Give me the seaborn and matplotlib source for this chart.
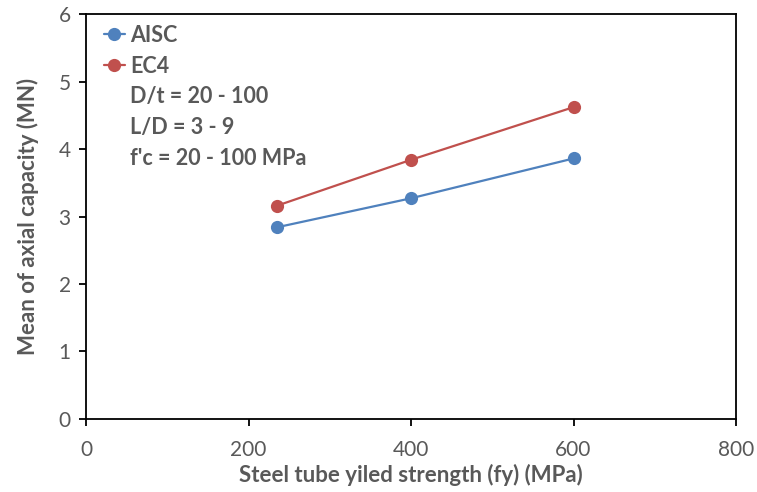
import matplotlib
matplotlib.use("Agg")
import matplotlib.pyplot as plt
import seaborn as sns
import pandas as pd
from matplotlib.lines import Line2D

fy = [235, 400, 600]
aisc = [2.84, 3.27, 3.86]
ec4 = [3.16, 3.84, 4.62]
series_names = ["AISC", "EC4"]
notes = ["D/t = 20 - 100", "L/D = 3 - 9", "f'c = 20 - 100 MPa"]
xticks = [0, 200, 400, 600, 800]
yticks = [0, 1, 2, 3, 4, 5, 6]

df = pd.DataFrame({
    "fy": fy * 2,
    "cap": aisc + ec4,
    "code": [series_names[0]] * 3 + [series_names[1]] * 3,
})

sns.set_style("white")
plt.rcParams["font.family"] = ["Lato", "DejaVu Sans"]
gray = "#595959"
colors = {"AISC": "#4F81BD", "EC4": "#C0504D"}

fig = plt.figure(figsize=(7.57, 4.92), dpi=100)
ax = fig.add_axes([0.1136, 0.1484, 0.8587, 0.8231])
sns.lineplot(data=df, x="fy", y="cap", hue="code", palette=colors, marker="o",
             markersize=9.5, markeredgewidth=0, linewidth=1.6, ax=ax, legend=False)

ax.set_xlim(0, 800)
ax.set_ylim(0, 6)
ax.set_xticks(xticks)
ax.set_yticks(yticks)
for s in ax.spines.values():
    s.set_color("black")
    s.set_linewidth(1.3)
ax.tick_params(axis="both", direction="out", length=5, width=1.3, color="black",
               labelsize=15, labelcolor=gray, bottom=True, left=True)
ax.tick_params(axis="x", pad=10)
ax.tick_params(axis="y", pad=6)
ax.set_xlabel("Steel tube yiled strength (fy) (MPa)", fontsize=16, color=gray,
              fontweight="bold", labelpad=3)
ax.set_ylabel("Mean of axial capacity (MN)", fontsize=16, color=gray,
              fontweight="bold", labelpad=14)

handles = [Line2D([], [], color=colors[n], marker="o", markersize=9.5,
                  markeredgewidth=0, linewidth=1.6) for n in series_names]
handles += [Line2D([], [], linestyle="none") for _ in notes]
leg = ax.legend(handles, series_names + notes, loc="upper left", frameon=False,
                handlelength=1.0, handletextpad=0.25, labelspacing=0.45,
                borderaxespad=0.0, borderpad=0.0, fontsize=15.5,
                bbox_to_anchor=(0.027, 0.973))
for t in leg.get_texts():
    t.set_color(gray)
    t.set_fontweight("bold")

fig.savefig("out.png", dpi=100)
